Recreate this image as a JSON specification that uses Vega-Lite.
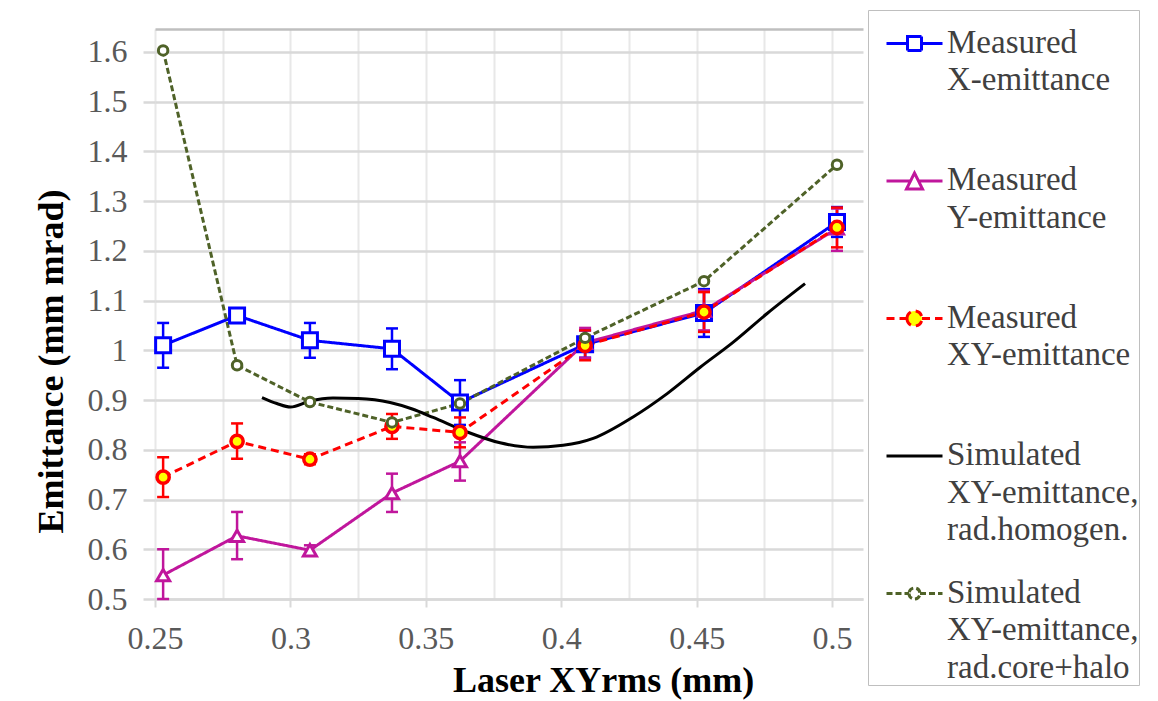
{
  "$schema": "https://vega.github.io/schema/vega-lite/v6.json",
  "width": 708,
  "height": 570,
  "autosize": {"type": "none"},
  "padding": {"left": 155, "top": 29, "right": 295, "bottom": 102},
  "background": "white",
  "config": {
    "view": {"stroke": null},
    "font": "Liberation Serif",
    "style": {"guide-label": {"lineHeight": 37.5, "font": "Liberation Serif"}},
    "legend": {"title": null, "orient": "none", "legendX": 713, "legendY": -19, "fillColor": "#ffffff", "strokeColor": "#bfbfbf", "padding": 0, "labelFont": "Liberation Serif", "labelFontSize": 33, "labelColor": "#404040", "labelLimit": 500, "labelBaseline": "top", "labelOffset": 46, "symbolSize": 400, "symbolStrokeWidth": 3, "symbolOpacity": 1, "rowPadding": 12.5, "gridAlign": "all"}
  },
  "data": {
    "values": [
      {"series": "Measured X-emittance", "x": 0.253, "y": 1.010, "lo": 0.965, "hi": 1.055},
      {"series": "Measured X-emittance", "x": 0.2803, "y": 1.070, "lo": 1.060, "hi": 1.080},
      {"series": "Measured X-emittance", "x": 0.3072, "y": 1.020, "lo": 0.985, "hi": 1.055},
      {"series": "Measured X-emittance", "x": 0.3375, "y": 1.003, "lo": 0.962, "hi": 1.044},
      {"series": "Measured X-emittance", "x": 0.3626, "y": 0.895, "lo": 0.850, "hi": 0.940},
      {"series": "Measured X-emittance", "x": 0.4088, "y": 1.012, "lo": 0.985, "hi": 1.040},
      {"series": "Measured X-emittance", "x": 0.4527, "y": 1.075, "lo": 1.027, "hi": 1.123},
      {"series": "Measured X-emittance", "x": 0.5018, "y": 1.258, "lo": 1.228, "hi": 1.288},
      {"series": "Measured Y-emittance", "x": 0.253, "y": 0.548, "lo": 0.500, "hi": 0.600},
      {"series": "Measured Y-emittance", "x": 0.2803, "y": 0.627, "lo": 0.580, "hi": 0.675},
      {"series": "Measured Y-emittance", "x": 0.3072, "y": 0.598, "lo": 0.588, "hi": 0.608},
      {"series": "Measured Y-emittance", "x": 0.3375, "y": 0.713, "lo": 0.675, "hi": 0.752},
      {"series": "Measured Y-emittance", "x": 0.3626, "y": 0.777, "lo": 0.738, "hi": 0.815},
      {"series": "Measured Y-emittance", "x": 0.4088, "y": 1.015, "lo": 0.985, "hi": 1.045},
      {"series": "Measured Y-emittance", "x": 0.4527, "y": 1.080, "lo": 1.040, "hi": 1.120},
      {"series": "Measured Y-emittance", "x": 0.5018, "y": 1.245, "lo": 1.200, "hi": 1.285},
      {"series": "Measured XY-emittance", "x": 0.253, "y": 0.745, "lo": 0.705, "hi": 0.785},
      {"series": "Measured XY-emittance", "x": 0.2803, "y": 0.817, "lo": 0.782, "hi": 0.853},
      {"series": "Measured XY-emittance", "x": 0.3072, "y": 0.781, "lo": 0.771, "hi": 0.791},
      {"series": "Measured XY-emittance", "x": 0.3375, "y": 0.847, "lo": 0.822, "hi": 0.872},
      {"series": "Measured XY-emittance", "x": 0.3626, "y": 0.835, "lo": 0.805, "hi": 0.865},
      {"series": "Measured XY-emittance", "x": 0.4088, "y": 1.010, "lo": 0.980, "hi": 1.040},
      {"series": "Measured XY-emittance", "x": 0.4527, "y": 1.077, "lo": 1.037, "hi": 1.117},
      {"series": "Measured XY-emittance", "x": 0.5018, "y": 1.247, "lo": 1.207, "hi": 1.287},
      {"series": "Simulated XY-emittance, rad.core+halo", "x": 0.253, "y": 1.603},
      {"series": "Simulated XY-emittance, rad.core+halo", "x": 0.2803, "y": 0.970},
      {"series": "Simulated XY-emittance, rad.core+halo", "x": 0.3072, "y": 0.896},
      {"series": "Simulated XY-emittance, rad.core+halo", "x": 0.3375, "y": 0.855},
      {"series": "Simulated XY-emittance, rad.core+halo", "x": 0.3626, "y": 0.893},
      {"series": "Simulated XY-emittance, rad.core+halo", "x": 0.4088, "y": 1.025},
      {"series": "Simulated XY-emittance, rad.core+halo", "x": 0.4527, "y": 1.139},
      {"series": "Simulated XY-emittance, rad.core+halo", "x": 0.5018, "y": 1.373},
      {"series": "Simulated XY-emittance, rad.homogen.", "x": 0.2895, "y": 0.905},
      {"series": "Simulated XY-emittance, rad.homogen.", "x": 0.2950, "y": 0.893},
      {"series": "Simulated XY-emittance, rad.homogen.", "x": 0.3000, "y": 0.886},
      {"series": "Simulated XY-emittance, rad.homogen.", "x": 0.3072, "y": 0.898},
      {"series": "Simulated XY-emittance, rad.homogen.", "x": 0.3157, "y": 0.904},
      {"series": "Simulated XY-emittance, rad.homogen.", "x": 0.3250, "y": 0.903},
      {"series": "Simulated XY-emittance, rad.homogen.", "x": 0.3368, "y": 0.895},
      {"series": "Simulated XY-emittance, rad.homogen.", "x": 0.3450, "y": 0.882},
      {"series": "Simulated XY-emittance, rad.homogen.", "x": 0.3527, "y": 0.865},
      {"series": "Simulated XY-emittance, rad.homogen.", "x": 0.3652, "y": 0.836},
      {"series": "Simulated XY-emittance, rad.homogen.", "x": 0.3774, "y": 0.814},
      {"series": "Simulated XY-emittance, rad.homogen.", "x": 0.3896, "y": 0.805},
      {"series": "Simulated XY-emittance, rad.homogen.", "x": 0.4007, "y": 0.809},
      {"series": "Simulated XY-emittance, rad.homogen.", "x": 0.4118, "y": 0.823},
      {"series": "Simulated XY-emittance, rad.homogen.", "x": 0.4265, "y": 0.866},
      {"series": "Simulated XY-emittance, rad.homogen.", "x": 0.4391, "y": 0.913},
      {"series": "Simulated XY-emittance, rad.homogen.", "x": 0.4513, "y": 0.966},
      {"series": "Simulated XY-emittance, rad.homogen.", "x": 0.4634, "y": 1.016},
      {"series": "Simulated XY-emittance, rad.homogen.", "x": 0.4760, "y": 1.074},
      {"series": "Simulated XY-emittance, rad.homogen.", "x": 0.4900, "y": 1.134}
    ]
  },
  "resolve": {"axis": {"x": "independent", "y": "independent"}},
  "layer": [
    {
      "mark": {"type": "point", "strokeWidth": 3, "opacity": 0},
      "encoding": {
        "x": {"field": "x", "type": "quantitative", "scale": {"domain": [0.25, 0.5114], "nice": false, "zero": false},
          "axis": {"orient": "top", "values": [0.25, 0.275, 0.3, 0.325, 0.35, 0.375, 0.4, 0.425, 0.45, 0.475, 0.5], "grid": true, "gridColor": "#e8e8e8", "gridWidth": 2, "ticks": false, "labels": false, "domain": true, "domainColor": "#bfbfbf", "domainWidth": 2.5, "title": null}},
        "y": {"field": "y", "type": "quantitative", "scale": {"domain": [0.5, 1.646], "nice": false, "zero": false},
          "axis": {"orient": "left", "values": [0.5, 0.6, 0.7, 0.8, 0.9, 1.0, 1.1, 1.2, 1.3, 1.4, 1.5, 1.6], "format": ".1~f", "grid": true, "gridColor": "#d9d9d9", "gridWidth": 2.5, "ticks": true, "tickSize": 12, "tickColor": "#d9d9d9", "tickWidth": 2.5, "domain": false, "labelFont": "Liberation Serif", "labelFontSize": 32, "labelColor": "#595959", "labelPadding": 16, "title": "Emittance (mm mrad)", "titleFont": "Liberation Serif", "titleFontSize": 36, "titleFontWeight": "bold", "titleColor": "#000000", "titleX": -93, "titleY": 332, "titleAlign": "center", "titleBaseline": "alphabetic", "titleAngle": 270}},
        "stroke": {"field": "series", "type": "nominal",
          "scale": {"domain": ["Measured X-emittance", "Measured Y-emittance", "Measured XY-emittance", "Simulated XY-emittance, rad.homogen.", "Simulated XY-emittance, rad.core+halo"], "range": ["#0000ff", "#c0169c", "#ff0000", "#000000", "#4f6228"]},
          "legend": {"labelExpr": "length(split(datum.label, ' ')) > 2 ? [split(datum.label, ' ')[0] + '                    ', split(datum.label, ' ')[1], split(datum.label, ' ')[2]] : [split(datum.label, ' ')[0] + '                    ', split(datum.label, ' ')[1]]"}},
        "fill": {"field": "series", "type": "nominal",
          "scale": {"domain": ["Measured X-emittance", "Measured Y-emittance", "Measured XY-emittance", "Simulated XY-emittance, rad.homogen.", "Simulated XY-emittance, rad.core+halo"], "range": ["#ffffff", "#ffffff", "#ffff00", "#ffffff", "#ffffff"]},
          "legend": {"labelExpr": "length(split(datum.label, ' ')) > 2 ? [split(datum.label, ' ')[0] + '                    ', split(datum.label, ' ')[1], split(datum.label, ' ')[2]] : [split(datum.label, ' ')[0] + '                    ', split(datum.label, ' ')[1]]"}},
        "shape": {"field": "series", "type": "nominal",
          "scale": {"domain": ["Measured X-emittance", "Measured Y-emittance", "Measured XY-emittance", "Simulated XY-emittance, rad.homogen.", "Simulated XY-emittance, rad.core+halo"],
            "range": [
              "M0.2,1.7H2.3M3.7,1.7H5.8M2.3,1.0H3.7V2.4H2.3Z",
              "M0.2,1.7H2.6M3.4,1.7H5.8M3.0,0.9L3.8,2.5H2.2Z",
              "M0.2,1.7H2.25M3.75,1.7H5.8M2.25,1.7A0.75,0.75 0 1 0 3.75,1.7A0.75,0.75 0 1 0 2.25,1.7Z",
              "M0.2,1.7H5.8",
              "M0.2,1.7H2.45M3.55,1.7H5.8M2.45,1.7A0.55,0.55 0 1 0 3.55,1.7A0.55,0.55 0 1 0 2.45,1.7Z"
            ]},
          "legend": {"labelExpr": "length(split(datum.label, ' ')) > 2 ? [split(datum.label, ' ')[0] + '                    ', split(datum.label, ' ')[1], split(datum.label, ' ')[2]] : [split(datum.label, ' ')[0] + '                    ', split(datum.label, ' ')[1]]"}},
        "strokeDash": {"field": "series", "type": "nominal",
          "scale": {"domain": ["Measured X-emittance", "Measured Y-emittance", "Measured XY-emittance", "Simulated XY-emittance, rad.homogen.", "Simulated XY-emittance, rad.core+halo"], "range": [[1, 0], [1, 0], [8, 5], [1, 0], [6, 3]]},
          "legend": {"labelExpr": "length(split(datum.label, ' ')) > 2 ? [split(datum.label, ' ')[0] + '                    ', split(datum.label, ' ')[1], split(datum.label, ' ')[2]] : [split(datum.label, ' ')[0] + '                    ', split(datum.label, ' ')[1]]"}}
      }
    },
    {
      "transform": [{"filter": "datum.series != 'Simulated XY-emittance, rad.homogen.'"}],
      "mark": {"type": "line", "strokeWidth": 3},
      "encoding": {
        "x": {"field": "x", "type": "quantitative", "scale": {"domain": [0.25, 0.5114], "nice": false, "zero": false}, "axis": null},
        "y": {"field": "y", "type": "quantitative", "scale": {"domain": [0.5, 1.646], "nice": false, "zero": false}, "axis": null},
        "stroke": {"field": "series", "type": "nominal", "legend": null},
        "strokeDash": {"field": "series", "type": "nominal", "legend": null}
      }
    },
    {
      "transform": [{"filter": "datum.series == 'Simulated XY-emittance, rad.homogen.'"}],
      "mark": {"type": "line", "strokeWidth": 3, "interpolate": "monotone", "color": "#000000"},
      "encoding": {
        "x": {"field": "x", "type": "quantitative", "scale": {"domain": [0.25, 0.5114], "nice": false, "zero": false},
          "axis": {"orient": "bottom", "values": [0.25, 0.3, 0.35, 0.4, 0.45, 0.5], "format": ".2~f", "labelFlush": false, "grid": false, "ticks": true, "tickSize": 8, "tickColor": "#d9d9d9", "tickWidth": 2, "domain": true, "domainColor": "#d9d9d9", "domainWidth": 2.5, "labelFont": "Liberation Serif", "labelFontSize": 32, "labelColor": "#595959", "labelPadding": 16, "title": "Laser XYrms (mm)", "titleFont": "Liberation Serif", "titleFontSize": 36, "titleFontWeight": "bold", "titleColor": "#000000", "titleX": 448, "titleY": 92, "titleAlign": "center", "titleBaseline": "alphabetic"}},
        "y": {"field": "y", "type": "quantitative", "scale": {"domain": [0.5, 1.646], "nice": false, "zero": false}, "axis": null}
      }
    },
    {
      "transform": [{"filter": "isValid(datum.lo)"}],
      "mark": {"type": "rule", "strokeWidth": 2.5},
      "encoding": {
        "x": {"field": "x", "type": "quantitative", "scale": {"domain": [0.25, 0.5114], "nice": false, "zero": false}, "axis": null},
        "y": {"field": "lo", "type": "quantitative", "scale": {"domain": [0.5, 1.646], "nice": false, "zero": false}, "axis": null},
        "y2": {"field": "hi"},
        "color": {"field": "series", "type": "nominal", "legend": null,
          "scale": {"domain": ["Measured X-emittance", "Measured Y-emittance", "Measured XY-emittance", "Simulated XY-emittance, rad.homogen.", "Simulated XY-emittance, rad.core+halo"], "range": ["#0000ff", "#c0169c", "#ff0000", "#000000", "#4f6228"]}}
      }
    },
    {
      "transform": [{"filter": "isValid(datum.lo)"}],
      "mark": {"type": "tick", "orient": "horizontal", "size": 12, "thickness": 2.5, "opacity": 1},
      "encoding": {
        "x": {"field": "x", "type": "quantitative", "scale": {"domain": [0.25, 0.5114], "nice": false, "zero": false}, "axis": null},
        "y": {"field": "lo", "type": "quantitative", "scale": {"domain": [0.5, 1.646], "nice": false, "zero": false}, "axis": null},
        "color": {"field": "series", "type": "nominal", "legend": null}
      }
    },
    {
      "transform": [{"filter": "isValid(datum.hi)"}],
      "mark": {"type": "tick", "orient": "horizontal", "size": 12, "thickness": 2.5, "opacity": 1},
      "encoding": {
        "x": {"field": "x", "type": "quantitative", "scale": {"domain": [0.25, 0.5114], "nice": false, "zero": false}, "axis": null},
        "y": {"field": "hi", "type": "quantitative", "scale": {"domain": [0.5, 1.646], "nice": false, "zero": false}, "axis": null},
        "color": {"field": "series", "type": "nominal", "legend": null}
      }
    },
    {
      "transform": [{"filter": "datum.series == 'Measured X-emittance'"}],
      "mark": {"type": "point", "shape": "square", "size": 225, "filled": false, "stroke": "#0000ff", "fill": "#ffffff", "strokeWidth": 3, "opacity": 1},
      "encoding": {
        "x": {"field": "x", "type": "quantitative", "scale": {"domain": [0.25, 0.5114], "nice": false, "zero": false}, "axis": null},
        "y": {"field": "y", "type": "quantitative", "scale": {"domain": [0.5, 1.646], "nice": false, "zero": false}, "axis": null}
      }
    },
    {
      "transform": [{"filter": "datum.series == 'Measured Y-emittance'"}],
      "mark": {"type": "point", "shape": "triangle-up", "size": 170, "filled": false, "stroke": "#c0169c", "fill": "#ffffff", "strokeWidth": 3, "opacity": 1},
      "encoding": {
        "x": {"field": "x", "type": "quantitative", "scale": {"domain": [0.25, 0.5114], "nice": false, "zero": false}, "axis": null},
        "y": {"field": "y", "type": "quantitative", "scale": {"domain": [0.5, 1.646], "nice": false, "zero": false}, "axis": null}
      }
    },
    {
      "transform": [{"filter": "datum.series == 'Measured XY-emittance'"}],
      "mark": {"type": "point", "shape": "circle", "size": 150, "filled": false, "stroke": "#ff0000", "fill": "#ffff00", "strokeWidth": 3.5, "opacity": 1},
      "encoding": {
        "x": {"field": "x", "type": "quantitative", "scale": {"domain": [0.25, 0.5114], "nice": false, "zero": false}, "axis": null},
        "y": {"field": "y", "type": "quantitative", "scale": {"domain": [0.5, 1.646], "nice": false, "zero": false}, "axis": null}
      }
    },
    {
      "transform": [{"filter": "datum.series == 'Simulated XY-emittance, rad.core+halo'"}],
      "mark": {"type": "point", "shape": "circle", "size": 90, "filled": false, "stroke": "#4f6228", "fill": "#ffffff", "strokeWidth": 3, "opacity": 1},
      "encoding": {
        "x": {"field": "x", "type": "quantitative", "scale": {"domain": [0.25, 0.5114], "nice": false, "zero": false}, "axis": null},
        "y": {"field": "y", "type": "quantitative", "scale": {"domain": [0.5, 1.646], "nice": false, "zero": false}, "axis": null}
      }
    }
  ]
}
